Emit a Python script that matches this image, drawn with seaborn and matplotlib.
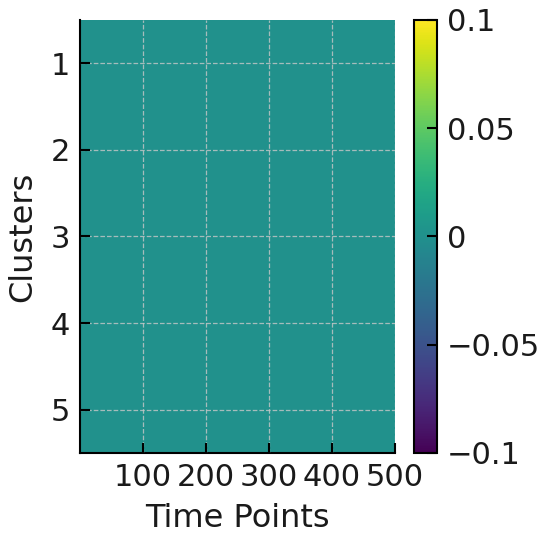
import numpy as np
import pandas as pd
import matplotlib
matplotlib.use("Agg")
import matplotlib.pyplot as plt
from matplotlib.ticker import FuncFormatter
import seaborn as sns

# data: every cell is 0
clusters = [1, 2, 3, 4, 5]
n_time_points = 500
cluster_values = [0.0, 0.0, 0.0, 0.0, 0.0]  # constant value per cluster
x_tick_values = [100, 200, 300, 400, 500]
cbar_ticks = [-0.1, -0.05, 0, 0.05, 0.1]

time_points = list(range(1, n_time_points + 1))
matrix = pd.DataFrame(
    [[v] * n_time_points for v in cluster_values],
    index=clusters, columns=time_points,
)

sns.set_theme(style="ticks")
plt.rcParams["font.family"] = ["DejaVu Sans"]

fig = plt.figure(figsize=(5.5, 5.44), dpi=100)
ax = fig.add_axes([0.1455, 0.1673, 0.5727, 0.796])
cax = fig.add_axes([0.7527, 0.1673, 0.0418, 0.796])

sns.heatmap(matrix, ax=ax, cbar_ax=cax, cmap="viridis", vmin=-0.1, vmax=0.1,
            xticklabels=False, yticklabels=False)

ax.set_xticks(x_tick_values)
ax.set_xticklabels([str(t) for t in x_tick_values], rotation=0)
ax.set_yticks([i + 0.5 for i in range(len(clusters))])
ax.set_yticklabels([str(c) for c in clusters], rotation=0)

ax.grid(True, color="#c8c8c8", linestyle="--", linewidth=0.9, alpha=0.8)
ax.set_axisbelow(False)

for side in ["left", "bottom"]:
    ax.spines[side].set_visible(True)
    ax.spines[side].set_color("black")
    ax.spines[side].set_linewidth(1.5)
for side in ["top", "right"]:
    ax.spines[side].set_visible(False)

ax.tick_params(direction="in", length=7, width=1.5, color="black",
               labelsize=22, pad=7, labelcolor="#1a1a1a")
ax.set_xlabel("Time Points", fontsize=23, color="#1a1a1a", labelpad=8)
ax.set_ylabel("Clusters", fontsize=23, color="#1a1a1a", labelpad=9)

cbar = ax.collections[0].colorbar
cbar.set_ticks(cbar_ticks)
cbar.ax.yaxis.set_major_formatter(
    FuncFormatter(lambda v, p: ("%g" % v).replace("-", "\u2212")))
cbar.ax.set_axisbelow(False)  # ticks drawn over the colour ramp
cbar.ax.tick_params(direction="in", length=7, width=1.5, color="black",
                    labelsize=22, pad=7, labelcolor="#1a1a1a")
cbar.outline.set_visible(True)
cbar.outline.set_edgecolor("black")
cbar.outline.set_linewidth(1.5)

fig.savefig("out.png", dpi=100)
